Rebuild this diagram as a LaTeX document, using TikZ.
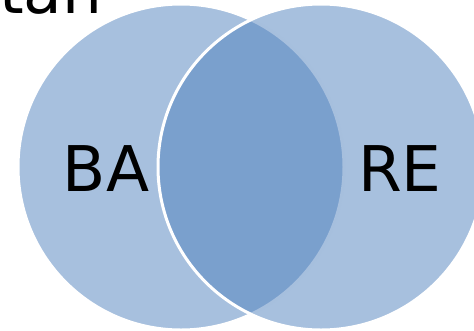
\documentclass[tikz,border=0pt]{standalone}
\usepackage{fontspec}
\setmainfont{DejaVu Sans}
\usetikzlibrary{positioning}
\definecolor{acc}{RGB}{79,129,189}
\definecolor{bg}{RGB}{255,255,255}
\tikzset{
  every picture/.style={line join=round},
  % Mengen
  set/.style={circle, inner sep=0pt, minimum size=326pt, fill=acc, fill opacity=0.5,
    draw=bg, draw opacity=1, line width=3pt},
  % Beschriftung
  lbl/.style={font=\fontsize{63}{63}\selectfont, text=black, inner sep=0pt},
}
\begin{document}
\begin{tikzpicture}[x=1pt, y=-1pt]
  \useasboundingbox (0,0) rectangle (474,330);
  \clip (0,0) rectangle (474,330);
  % ---------- Titel (oben abgeschnitten) ----------
  \node[lbl, anchor=base west] (title) at (-1,13) {tan};
  % ---------- Mengen ----------
  \node[set] (ba) at (181,167) {};
  \node[set] (re) at (321,167) {};
  \node[lbl] (balbl) at (106,169) {BA};
  \node[lbl] (relbl) at (400,169) {RE};
\end{tikzpicture}
\end{document}
